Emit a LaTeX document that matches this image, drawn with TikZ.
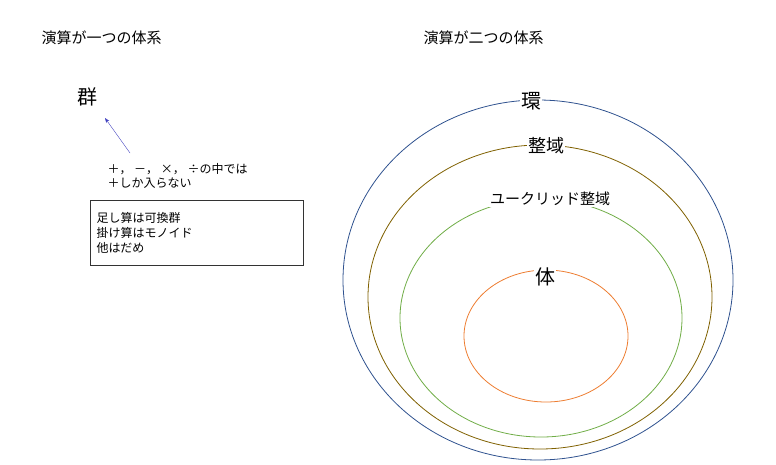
\documentclass[tikz,border=0pt]{standalone}
\usepackage{fontspec}
\setmainfont{Noto Sans CJK JP}
\usetikzlibrary{arrows.meta}
\begin{document}
\begin{tikzpicture}[x=1pt,y=-1pt,
  lbl/.style={fill=white,inner sep=1pt},
  ring/.style={line width=0.8pt}]
\useasboundingbox (0,0) rectangle (776,464);
\node[anchor=west,font=\fontsize{15}{18}\selectfont] (t1) at (38,38) {演算が一つの体系};
\node[anchor=west,font=\fontsize{15}{18}\selectfont] (t2) at (420,38) {演算が二つの体系};
\node[font=\fontsize{20}{24}\selectfont] (g) at (87,97) {群};
\node[anchor=west,font=\fontsize{12}{14}\selectfont,align=left] (ops) at (104,176) {＋，\ －，\ ×，\ ÷の中では\\＋しか入らない};
\node[draw=black!80,anchor=north west,minimum width=213pt,minimum height=65pt,text width=200pt,align=left,font=\fontsize{12}{15}\selectfont,inner sep=5pt] (box) at (90,200) {足し算は可換群\\掛け算はモノイド\\他はだめ};
\coordinate (a1) at (130,153);
\coordinate (a2) at (105,118);
\draw[-{Stealth[length=5pt]},color=blue!50!gray] (a1) -- (a2);
\draw[ring,color={rgb,255:red,47;green,82;blue,143}] (538,280) ellipse [x radius=195, y radius=180];
\draw[ring,color={rgb,255:red,127;green,96;blue,0}] (540,297) ellipse [x radius=172, y radius=152];
\draw[ring,color={rgb,255:red,112;green,173;blue,71}] (541,318) ellipse [x radius=141, y radius=119];
\draw[ring,color={rgb,255:red,237;green,125;blue,49}] (546,336) ellipse [x radius=82, y radius=66];
\node[lbl,font=\fontsize{20}{24}\selectfont] (k) at (531,101) {環};
\node[lbl,font=\fontsize{18}{22}\selectfont] (s) at (546,146) {整域};
\node[lbl,font=\fontsize{15}{18}\selectfont] (e) at (550,199) {ユークリッド整域};
\node[lbl,font=\fontsize{20}{24}\selectfont] (f) at (545,277) {体};
\end{tikzpicture}
\end{document}
